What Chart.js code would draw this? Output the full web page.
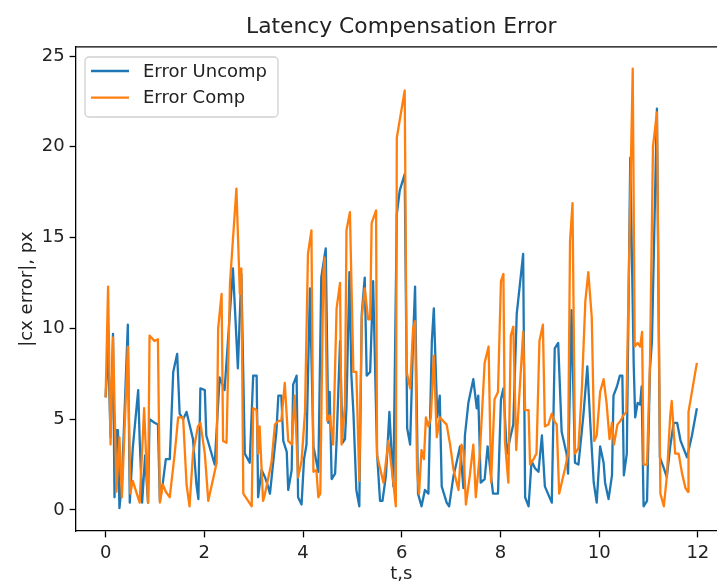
<!DOCTYPE html>
<html>
<head>
<meta charset="utf-8">
<script src="https://cdn.jsdelivr.net/npm/chart.js@4.4.1/dist/chart.umd.min.js"></script>
<style>
  html, body { margin: 0; padding: 0; overflow: hidden; background: #fff; }
  #wrap { width: 745px; height: 586px; position: absolute; left: 0; top: 0; }
</style>
</head>
<body>
<div id="wrap"><canvas id="chart"></canvas></div>
<script>
// time stamps and errors
const tUncomp = [0.00,0.05,0.10,0.15,0.18,0.22,0.25,0.28,0.33,0.45,0.49,0.55,0.66,0.69,0.74,0.80,0.86,0.89,0.99,1.06,
  1.10,1.16,1.22,1.30,1.37,1.45,1.50,1.57,1.64,1.70,1.77,1.84,1.88,1.92,2.01,2.04,2.21,2.31,2.41,2.58,
  2.68,2.75,2.82,2.92,2.99,3.06,3.09,3.16,3.23,3.29,3.33,3.46,3.50,3.56,3.60,3.67,3.70,3.77,3.80,3.87,
  3.90,3.97,4.02,4.07,4.14,4.21,4.31,4.37,4.46,4.51,4.54,4.58,4.65,4.68,4.75,4.80,4.85,4.88,4.94,4.98,
  5.02,5.08,5.14,5.19,5.25,5.29,5.36,5.42,5.50,5.56,5.61,5.68,5.75,5.83,5.90,5.96,6.06,6.11,6.17,6.23,
  6.27,6.33,6.40,6.47,6.54,6.61,6.65,6.72,6.77,6.81,6.91,6.96,7.05,7.11,7.18,7.25,7.28,7.35,7.45,7.52,
  7.55,7.60,7.68,7.74,7.85,7.95,8.01,8.06,8.13,8.20,8.26,8.33,8.46,8.50,8.57,8.63,8.70,8.77,8.84,8.90,
  9.04,9.10,9.17,9.24,9.34,9.37,9.44,9.51,9.58,9.68,9.76,9.82,9.89,9.95,10.02,10.09,10.12,10.19,10.26,10.29,
  10.36,10.42,10.47,10.50,10.56,10.63,10.70,10.73,10.78,10.83,10.86,10.90,10.97,11.03,11.07,11.17,11.23,11.31,11.37,11.44,
  11.51,11.58,11.65,11.78,11.88,11.98];
const errUncomp = [6.2,9.0,4.0,9.7,0.7,4.4,4.4,0.1,1.5,10.2,0.4,3.4,6.6,3.9,0.4,3.0,0.4,5.0,4.8,4.7,
  0.5,1.5,2.8,2.8,7.6,8.6,5.3,5.0,5.4,4.7,3.9,1.4,0.6,6.7,6.6,4.1,2.5,7.3,6.6,13.3,
  7.8,13.0,3.1,2.6,7.4,7.4,0.7,2.2,1.8,1.3,0.9,4.3,6.3,6.3,3.8,3.2,1.1,2.2,6.9,7.4,
  0.7,0.3,2.8,3.6,12.2,3.5,2.1,12.8,14.4,4.8,6.5,1.7,2.0,3.8,9.3,3.7,3.9,5.7,13.1,7.4,
  5.4,1.1,0.2,10.8,12.8,7.4,7.6,12.6,3.1,0.5,0.5,1.9,5.4,1.3,16.3,17.6,18.5,4.5,3.6,9.4,
  12.3,0.9,0.2,1.1,0.9,9.3,11.1,5.1,6.3,1.3,0.4,0.2,1.9,2.6,3.5,1.2,4.1,5.9,7.2,5.6,
  6.3,1.5,1.7,3.5,0.9,0.9,6.1,6.7,3.1,4.0,4.7,10.8,14.1,0.7,0.2,2.7,2.3,2.1,4.1,1.3,
  0.4,8.9,9.2,4.3,3.1,2.0,11.0,2.6,2.5,5.2,7.9,4.8,1.5,0.4,3.5,2.6,1.5,0.6,1.9,6.3,
  6.8,7.4,7.4,1.9,3.1,19.4,8.0,5.1,5.9,5.8,6.8,0.2,0.5,7.8,9.3,22.1,2.9,2.3,1.8,3.5,
  4.8,4.8,3.8,2.9,4.1,5.6];

const tComp = [0.00,0.05,0.10,0.15,0.22,0.28,0.33,0.45,0.50,0.55,0.69,0.78,0.86,0.89,0.99,1.06,1.10,1.16,1.22,1.30,
  1.40,1.47,1.57,1.64,1.70,1.77,1.87,1.92,2.01,2.08,2.25,2.28,2.35,2.38,2.45,2.52,2.65,2.72,2.75,2.79,
  2.96,2.99,3.06,3.09,3.12,3.19,3.23,3.36,3.43,3.50,3.56,3.63,3.70,3.77,3.83,3.90,3.97,4.04,4.10,4.17,
  4.21,4.27,4.31,4.35,4.41,4.44,4.49,4.54,4.61,4.68,4.75,4.78,4.85,4.88,4.95,5.02,5.08,5.14,5.19,5.25,
  5.32,5.36,5.39,5.48,5.50,5.63,5.73,5.83,5.88,5.90,6.06,6.10,6.17,6.23,6.27,6.31,6.35,6.40,6.45,6.49,
  6.54,6.59,6.65,6.71,6.77,6.84,6.91,6.98,7.05,7.15,7.21,7.25,7.30,7.38,7.45,7.50,7.58,7.68,7.76,7.81,
  7.88,7.95,8.01,8.06,8.09,8.16,8.21,8.26,8.32,8.36,8.46,8.50,8.57,8.60,8.67,8.73,8.79,8.86,8.90,8.97,
  9.04,9.09,9.14,9.19,9.31,9.37,9.41,9.46,9.51,9.58,9.65,9.72,9.78,9.85,9.90,9.95,10.02,10.09,10.15,10.21,
  10.26,10.30,10.37,10.43,10.49,10.55,10.62,10.68,10.72,10.78,10.83,10.87,10.90,10.97,11.03,11.09,11.17,11.24,11.31,11.37,
  11.44,11.47,11.54,11.61,11.68,11.75,11.80,11.81,11.98];
const errComp = [6.2,12.3,3.6,9.5,1.0,4.0,0.7,9.0,0.9,1.6,0.4,5.6,0.4,9.6,9.3,9.4,0.4,1.4,1.0,0.7,
  3.1,5.1,5.1,1.4,0.2,3.1,4.6,4.8,3.1,0.5,2.6,10.0,11.9,3.8,3.7,12.5,17.7,11.9,13.3,0.9,
  0.2,5.6,5.5,3.1,4.6,0.5,0.9,2.6,4.7,4.9,4.9,7.0,3.8,3.6,6.3,1.8,2.7,5.4,14.1,15.4,
  2.1,2.2,0.7,0.9,13.0,13.9,4.9,5.2,3.6,11.1,12.5,3.6,5.8,15.4,16.4,7.6,7.6,1.6,10.6,12.2,
  10.5,10.5,15.8,16.5,3.0,1.5,3.8,1.5,0.2,20.5,23.1,7.6,6.7,10.0,10.4,2.2,0.9,3.3,2.8,5.1,
  4.6,5.1,8.5,4.0,5.1,4.9,4.7,3.6,2.2,1.1,3.6,3.3,0.3,1.9,3.6,0.7,3.0,8.1,9.0,1.5,
  6.1,6.5,12.6,13.0,3.8,1.5,9.6,10.1,3.3,5.3,9.8,5.5,5.5,2.5,2.8,3.1,9.3,10.2,4.6,4.7,
  5.3,4.9,4.7,0.9,2.3,3.1,14.8,16.9,3.1,3.4,6.7,11.5,13.1,10.6,3.8,4.1,6.5,7.2,5.9,3.9,
  4.8,3.6,4.7,4.9,5.2,5.4,15.7,24.3,9.0,9.2,9.0,9.8,2.5,2.5,8.1,20.0,21.9,0.9,0.2,1.8,
  5.2,6.0,3.1,3.1,2.0,1.2,1.0,5.4,8.1];

const seriesNames = ['Error Uncomp', 'Error Comp'];
const seriesColors = ['#1f77b4', '#ff7f0e'];
const xTicksStep = 2;
const yTicksStep = 5;

const toPoints = (ts, vs) => ts.map((t, i) => ({x: t, y: vs[i]}));

Chart.defaults.font.family = "'DejaVu Sans', sans-serif";
Chart.defaults.color = '#000';

// top/right frame lines, like a matplotlib box
const frame = {
  id: 'frame',
  afterDraw(chart) {
    const {ctx, chartArea: a} = chart;
    ctx.save();
    ctx.strokeStyle = '#000';
    ctx.lineWidth = 1.3;
    ctx.beginPath();
    ctx.moveTo(a.left, a.top);
    ctx.lineTo(a.right, a.top);
    ctx.lineTo(a.right, a.bottom);
    ctx.stroke();
    ctx.restore();
  }
};

// legend box in the upper left corner
const boxLegend = {
  id: 'boxLegend',
  afterDraw(chart) {
    const ctx = chart.ctx;
    const x = 85, y = 57, w = 193, h = 60;
    ctx.save();
    ctx.fillStyle = 'rgba(255,255,255,0.8)';
    ctx.strokeStyle = '#d0d0d0';
    ctx.lineWidth = 1.3;
    ctx.beginPath();
    ctx.roundRect(x, y, w, h, 4);
    ctx.fill();
    ctx.stroke();
    ctx.font = "18px 'DejaVu Sans'";
    ctx.textBaseline = 'middle';
    seriesNames.forEach((name, i) => {
      const ry = 71 + i * 26.7;
      ctx.strokeStyle = seriesColors[i];
      ctx.lineWidth = 2.3;
      ctx.beginPath();
      ctx.moveTo(91, ry);
      ctx.lineTo(129, ry);
      ctx.stroke();
      ctx.fillStyle = '#222';
      ctx.fillText(name, 143, ry + 1);
    });
    ctx.restore();
  }
};

new Chart(document.getElementById('chart'), {
  type: 'line',
  data: {
    datasets: [
      {
        label: seriesNames[0],
        data: toPoints(tUncomp, errUncomp),
        borderColor: seriesColors[0],
        borderWidth: 2.3,
        pointRadius: 0,
        tension: 0,
        borderJoinStyle: 'round',
        order: 1
      },
      {
        label: seriesNames[1],
        data: toPoints(tComp, errComp),
        borderColor: seriesColors[1],
        borderWidth: 2.3,
        pointRadius: 0,
        tension: 0,
        borderJoinStyle: 'round',
        order: 0
      }
    ]
  },
  options: {
    responsive: true,
    maintainAspectRatio: false,
    animation: false,
    devicePixelRatio: 1,
    layout: { padding: { left: 0, right: 18.5, top: 0, bottom: 0 } },
    plugins: {
      legend: { display: false },
      tooltip: { enabled: false },
      title: {
        display: true,
        text: 'Latency Compensation Error',
        fullSize: false,
        color: '#222',
        font: { size: 21.8, weight: 'normal' },
        padding: { top: 14, bottom: 6.8 }
      }
    },
    scales: {
      x: {
        type: 'linear',
        min: -0.6,
        max: 12.58,
        afterFit: s => { s.height = 55; },
        ticks: { stepSize: xTicksStep, includeBounds: false, font: { size: 18 }, color: '#222', padding: 5, maxRotation: 0 },
        grid: { drawOnChartArea: false, tickLength: 6.4, tickColor: '#000', tickWidth: 1.3 },
        border: { color: '#000', width: 1.3 },
        title: { display: true, text: 't,s', font: { size: 18 }, color: '#222', padding: { top: 0, bottom: 1 } }
      },
      y: {
        min: -1.16,
        max: 25.5,
        afterFit: s => { s.width = 76; },
        ticks: { stepSize: yTicksStep, includeBounds: false, font: { size: 18 }, color: '#222', padding: 5 },
        grid: { drawOnChartArea: false, tickLength: 6.4, tickColor: '#000', tickWidth: 1.3 },
        border: { color: '#000', width: 1.3 },
        title: { display: true, text: '|cx error|, px', font: { size: 18 }, color: '#222', padding: { top: 17, bottom: 0 } }
      }
    }
  },
  plugins: [frame, boxLegend]
});
</script>
</body>
</html>
